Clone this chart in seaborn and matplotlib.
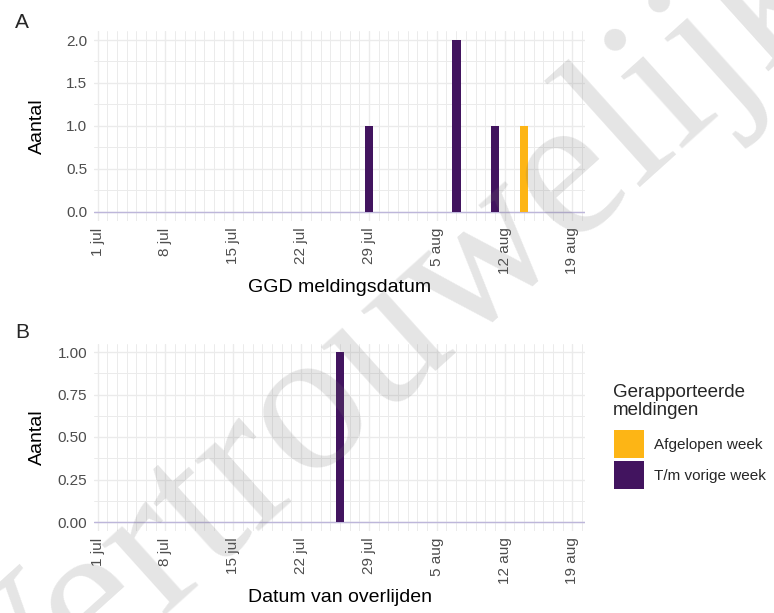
import pandas as pd
import seaborn as sns
import matplotlib.pyplot as plt
import matplotlib.dates as mdates
from matplotlib.patches import Patch
from matplotlib.ticker import MultipleLocator, FormatStrFormatter

# ======================================
# DATA
# ======================================
status_levels = ["Afgelopen week", "T/m vorige week"]
status_colors = {"Afgelopen week": "#FDB515", "T/m vorige week": "#42145F"}

# A: GGD meldingsdatum
meld_dates = ["2020-07-29", "2020-08-07", "2020-08-11", "2020-08-14"]
meld_counts = [1, 2, 1, 1]
meld_status = ["T/m vorige week", "T/m vorige week", "T/m vorige week", "Afgelopen week"]

# B: datum van overlijden
overl_dates = ["2020-07-26"]
overl_counts = [1]
overl_status = ["T/m vorige week"]

tick_dates = ["2020-07-01", "2020-07-08", "2020-07-15", "2020-07-22",
              "2020-07-29", "2020-08-05", "2020-08-12", "2020-08-19"]
tick_labels = ["1 jul", "8 jul", "15 jul", "22 jul", "29 jul", "5 aug", "12 aug", "19 aug"]

sns.set_theme(style="white")
plt.rcParams["font.family"] = ["Liberation Sans", "DejaVu Sans"]

W, H = 774, 613
fig = plt.figure(figsize=(W / 100, H / 100), dpi=100)


def px_axes(left, top, right, bottom):
    return fig.add_axes([left / W, 1 - bottom / H, (right - left) / W, (bottom - top) / H])


def draw_panel(ax, dates, counts, status, ymax, ystep, yfmt, xlabel):
    df = pd.DataFrame({
        "x": mdates.date2num(pd.to_datetime(dates)),
        "n": counts,
        "status": status,
    })
    ux = sorted(set(df["x"]))
    gap = min(b - a for a, b in zip(ux[:-1], ux[1:])) if len(ux) > 1 else 1
    sns.barplot(
        data=df, x="x", y="n", hue="status", hue_order=status_levels,
        palette=status_colors, native_scale=True, dodge=False,
        width=0.9 / gap, errorbar=None, saturation=1, linewidth=0,
        legend=False, ax=ax, zorder=3,
    )
    ax.axhline(0, color="#bdb6da", lw=1.0, zorder=2)

    start = mdates.date2num(pd.Timestamp("2020-07-01"))
    ax.set_xlim(start - 0.38, start + 50.3)
    ax.set_xticks(mdates.date2num(pd.to_datetime(tick_dates)))
    ax.set_xticklabels(tick_labels, rotation=90)
    ax.xaxis.set_minor_locator(MultipleLocator(1))

    pad = ymax * 0.05
    ax.set_ylim(-pad, ymax + pad)
    ax.yaxis.set_major_locator(MultipleLocator(ystep))
    ax.yaxis.set_minor_locator(MultipleLocator(ystep / 2))
    ax.yaxis.set_major_formatter(FormatStrFormatter(yfmt))

    ax.grid(which="major", color="#ebebeb", lw=1.0, zorder=0)
    ax.grid(which="minor", color="#ebebeb", lw=0.7, zorder=0)
    ax.set_axisbelow(True)
    for s in ax.spines.values():
        s.set_visible(False)
    ax.tick_params(which="both", length=0, labelsize=11, labelcolor="#4d4d4d", pad=5)

    ax.set_ylabel("Aantal", fontsize=14, color="black")
    ax.set_xlabel(xlabel, fontsize=14, color="black")
    ax.yaxis.set_label_coords(-0.098, 0.5)


axA = px_axes(94, 31.4, 585, 220.6)
draw_panel(axA, meld_dates, meld_counts, meld_status, 2.0, 0.5, "%.1f",
           "GGD meldingsdatum")
axA.xaxis.set_label_coords(0.5, -0.31)

axB = px_axes(94, 343.5, 585, 530.5)
draw_panel(axB, overl_dates, overl_counts, overl_status, 1.0, 0.25, "%.2f",
           "Datum van overlijden")
axB.xaxis.set_label_coords(0.5, -0.315)

handles = [Patch(facecolor=status_colors[s], edgecolor="none") for s in status_levels]
fig.legend(
    handles, status_levels,
    loc="upper left", bbox_to_anchor=(614 / W, 1 - 430 / H), frameon=False,
    fontsize=11, handlelength=1.95, handleheight=2.44,
    handletextpad=0.7, labelspacing=0.2, borderpad=0, borderaxespad=0,
)
fig.text(613 / W, 1 - 384 / H, "Gerapporteerde\nmeldingen", fontsize=13.5,
         ha="left", va="top", linespacing=1.05)

fig.text(22 / W, 1 - 23 / H, "A", fontsize=15, ha="center", va="center")
fig.text(22 / W, 1 - 332 / H, "B", fontsize=15, ha="center", va="center")

# watermark
fig.text(388 / W, 1 - 345 / H, "Vertrouwelijk", fontsize=148, family="Liberation Serif",
         color="#707070", alpha=0.18, rotation=42, rotation_mode="anchor",
         ha="center", va="center", zorder=10)

plt.savefig("out.png", dpi=100)
